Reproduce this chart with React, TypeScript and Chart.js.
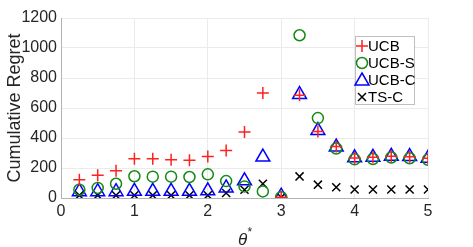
import React, { useEffect, useRef } from "react";
import { Chart, registerables } from "chart.js";

Chart.register(...registerables);

const thetas = [0.25, 0.5, 0.75, 1.0, 1.25, 1.5, 1.75, 2.0, 2.25, 2.5, 2.75, 3.0, 3.25, 3.5, 3.75, 4.0, 4.25, 4.5, 4.75, 5.0];
const ucb = [122, 151, 182, 262, 262, 255, 251, 277, 317, 440, 700, 5, 685, 444, 344, 267, 271, 278, 275, 265];
const ucbS = [55, 67, 95, 145, 142, 142, 140, 158, 113, 77, 44, 5, 1085, 533, 330, 258, 260, 270, 265, 255];
const ucbC = [42, 42, 42, 45, 45, 45, 45, 48, 67, 115, 273, 12, 690, 450, 340, 268, 271, 278, 276, 265];
const tsC = [18, 18, 18, 18, 18, 18, 18, 18, 33, 55, 95, 5, 144, 89, 72, 57, 57, 57, 57, 57];
const seriesNames = ["UCB", "UCB-S", "UCB-C", "TS-C"];
const yTicks = [0, 200, 400, 600, 800, 1000, 1200];
const xTicks = [0, 1, 2, 3, 4, 5];

const FONT = "'Liberation Sans', Arial, Helvetica, sans-serif";
const RED = "#ff2020";
const GREEN = "#138a13";
const BLUE = "#0000ff";
const BLACK = "#000000";

function drawMarker(ctx: CanvasRenderingContext2D, style: string, x: number, y: number, color: string) {
  ctx.save();
  ctx.strokeStyle = color;
  ctx.lineWidth = 1.5;
  ctx.beginPath();
  if (style === "cross") {
    ctx.moveTo(x - 6, y); ctx.lineTo(x + 6, y);
    ctx.moveTo(x, y - 6); ctx.lineTo(x, y + 6);
  } else if (style === "circle") {
    ctx.arc(x, y, 5.5, 0, Math.PI * 2);
  } else if (style === "triangle") {
    ctx.moveTo(x, y - 7); ctx.lineTo(x + 7, y + 5); ctx.lineTo(x - 7, y + 5); ctx.closePath();
  } else {
    ctx.moveTo(x - 4, y - 4); ctx.lineTo(x + 4, y + 4);
    ctx.moveTo(x + 4, y - 4); ctx.lineTo(x - 4, y + 4);
  }
  ctx.stroke();
  ctx.restore();
}

const overlayPlugin = {
  id: "overlay",
  afterDraw(chart: any) {
    const ctx = chart.ctx as CanvasRenderingContext2D;
    const ca = chart.chartArea;
    // legend box
    const bx = ca.right - 73;
    const by = ca.top + 18;
    const bw = 60;
    const bh = 69;
    ctx.save();
    ctx.fillStyle = "#ffffff";
    ctx.fillRect(bx, by, bw, bh);
    ctx.strokeStyle = "#bfbfbf";
    ctx.lineWidth = 1;
    ctx.strokeRect(bx + 0.5, by + 0.5, bw - 1, bh - 1);
    const styles = ["cross", "circle", "triangle", "crossRot"];
    const colors = [RED, GREEN, BLUE, BLACK];
    chart.data.datasets.forEach((ds: any, i: number) => {
      const yy = by + 10 + i * 17;
      drawMarker(ctx, styles[i], bx + 7, yy, colors[i]);
      ctx.fillStyle = "#000000";
      ctx.font = `15px ${FONT}`;
      ctx.textBaseline = "middle";
      ctx.textAlign = "left";
      ctx.fillText(ds.label, bx + 13, yy + 1);
    });
    // x-axis title theta*
    const cx = (ca.left + ca.right) / 2;
    ctx.fillStyle = "#262626";
    ctx.font = `italic 17px ${FONT}`;
    ctx.textBaseline = "alphabetic";
    ctx.textAlign = "center";
    ctx.fillText("θ", cx - 2, 245);
    ctx.font = `12px ${FONT}`;
    ctx.textAlign = "left";
    ctx.fillText("*", cx + 3, 236);
    ctx.restore();
  },
};

export default function App() {
  const ref = useRef<HTMLCanvasElement | null>(null);
  useEffect(() => {
    if (!ref.current) return;
    const mk = (arr: number[]) => thetas.map((t, i) => ({ x: t, y: arr[i] }));
    const chart = new Chart(ref.current, {
      type: "scatter",
      data: {
        datasets: [
          { label: seriesNames[0], data: mk(ucb), pointStyle: "cross", pointRadius: 6, pointBorderColor: RED, borderColor: RED, pointBorderWidth: 1.5, backgroundColor: "transparent" },
          { label: seriesNames[1], data: mk(ucbS), pointStyle: "circle", pointRadius: 5.5, pointBorderColor: GREEN, borderColor: GREEN, pointBorderWidth: 1.5, backgroundColor: "transparent", pointBackgroundColor: "transparent" },
          { label: seriesNames[2], data: mk(ucbC), pointStyle: "triangle", pointRadius: 8, pointBorderColor: BLUE, borderColor: BLUE, pointBorderWidth: 1.5, backgroundColor: "transparent", pointBackgroundColor: "transparent" },
          { label: seriesNames[3], data: mk(tsC), pointStyle: "crossRot", pointRadius: 5.7, pointBorderColor: BLACK, borderColor: BLACK, pointBorderWidth: 1.5, backgroundColor: "transparent" },
        ] as any,
      },
      options: {
        responsive: false,
        animation: false,
        layout: { padding: { left: 0, right: 45, top: 18, bottom: 0 } },
        plugins: { legend: { display: false }, tooltip: { enabled: false }, title: { display: false } },
        scales: {
          x: {
            type: "linear",
            min: 0,
            max: 5,
            afterBuildTicks: (s: any) => { s.ticks = xTicks.map((v) => ({ value: v })); },
            ticks: { font: { size: 16, family: FONT }, color: "#262626", padding: 4, maxRotation: 0, callback: (v: any) => String(v) },
            grid: { color: "#ebebeb", drawTicks: false },
            border: { color: "#b3b3b3", width: 1 },
            afterFit: (s: any) => { s.height = 49; },
          },
          y: {
            type: "linear",
            min: 0,
            max: 1200,
            afterBuildTicks: (s: any) => { s.ticks = yTicks.map((v) => ({ value: v })); },
            ticks: { font: { size: 16, family: FONT }, color: "#262626", padding: 4, callback: (v: any) => String(v) },
            grid: { color: "#ebebeb", drawTicks: false },
            border: { color: "#b3b3b3", width: 1 },
            title: { display: true, text: "Cumulative Regret", font: { size: 18, family: FONT }, color: "#262626", padding: { top: 4, bottom: 0 } },
            afterFit: (s: any) => { s.width = 61; },
          },
        },
      } as any,
      plugins: [overlayPlugin],
    });
    return () => chart.destroy();
  }, []);
  return (
    <div style={{ position: "absolute", left: 0, top: 0, width: 473, height: 247, background: "#fff" }}>
      <canvas ref={ref} width={473} height={247} />
    </div>
  );
}
